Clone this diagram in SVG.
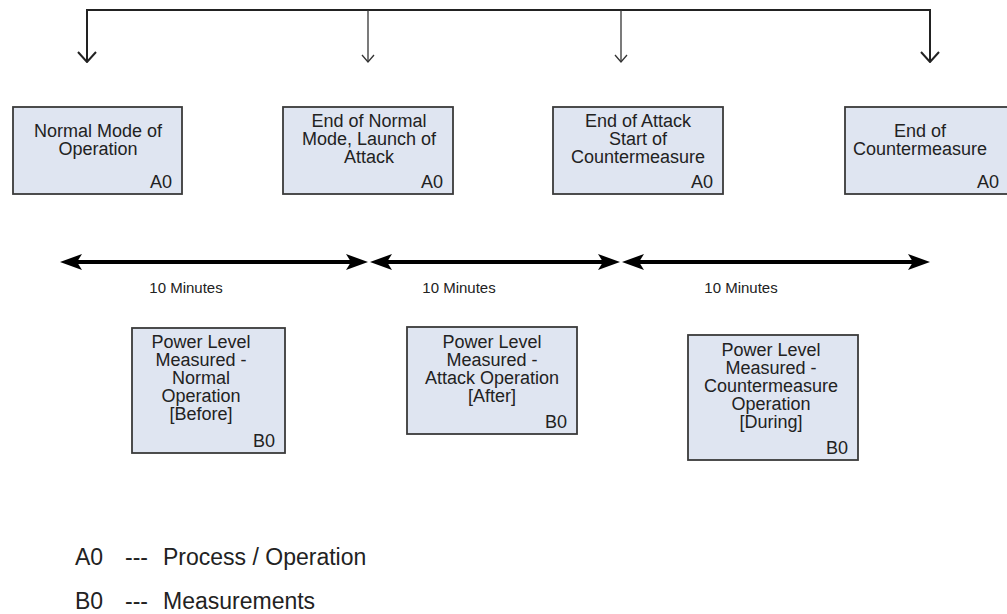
<svg xmlns="http://www.w3.org/2000/svg" width="1007" height="614" viewBox="0 0 1007 614">
<defs>
<style>
.box{fill:#dfe5f1;stroke:#3a3a3a;stroke-width:1.8}
.t{font-family:"Liberation Sans",Arial,sans-serif;font-size:18px;fill:#222;text-anchor:middle}
.lbl{font-family:"Liberation Sans",Arial,sans-serif;font-size:18px;fill:#222;text-anchor:end}
.min{font-family:"Liberation Sans",Arial,sans-serif;font-size:15px;fill:#222;text-anchor:middle}
.leg{font-family:"Liberation Sans",Arial,sans-serif;font-size:23px;fill:#222}
.wire{fill:none;stroke:#222;stroke-width:2}
.wire-thin{fill:none;stroke:#333;stroke-width:1.3}
.dbl{fill:none;stroke:#000;stroke-width:4;marker-start:url(#stealth);marker-end:url(#stealth)}
</style>
<marker id="stealth" viewBox="0 0 22 16" refX="5" refY="8" markerWidth="22" markerHeight="16" markerUnits="userSpaceOnUse" orient="auto-start-reverse">
<path d="M0,0 L22,8 L0,16 L5,8 z" fill="#000"/>
</marker>
<marker id="openThick" viewBox="0 0 20 12" refX="10" refY="11" markerWidth="20" markerHeight="12" markerUnits="userSpaceOnUse" orient="0">
<path d="M1,1 L10,11 L19,1" fill="none" stroke="#222" stroke-width="2"/>
</marker>
<marker id="openThin" viewBox="0 0 14 9" refX="7" refY="8" markerWidth="14" markerHeight="9" markerUnits="userSpaceOnUse" orient="0">
<path d="M1,1 L7,8 L13,1" fill="none" stroke="#333" stroke-width="1.3"/>
</marker>
</defs>
<rect width="1007" height="614" fill="#fff"/>

<g id="connectors">
<path class="wire" d="M87,62 L87,10 L930,10 L930,62"/>
<line class="wire" x1="87" y1="40" x2="87" y2="62" marker-end="url(#openThick)"/>
<line class="wire" x1="930" y1="40" x2="930" y2="62" marker-end="url(#openThick)"/>
<line class="wire-thin" x1="368" y1="10" x2="368" y2="62" marker-end="url(#openThin)"/>
<line class="wire-thin" x1="621" y1="10" x2="621" y2="62" marker-end="url(#openThin)"/>
<line class="dbl" x1="77" y1="262" x2="351" y2="262"/>
<line class="dbl" x1="387" y1="262" x2="603" y2="262"/>
<line class="dbl" x1="639" y1="262" x2="913" y2="262"/>
</g>

<g id="label-1"><text class="min" x="186" y="293">10 Minutes</text></g>
<g id="label-2"><text class="min" x="459" y="293">10 Minutes</text></g>
<g id="label-3"><text class="min" x="741" y="293">10 Minutes</text></g>

<g id="a1">
<rect class="box" x="13" y="107" width="169" height="87"/>
<text class="t" x="98" y="137">Normal Mode of</text>
<text class="t" x="98" y="155">Operation</text>
<text class="lbl" x="172" y="188">A0</text>
</g>
<g id="a2">
<rect class="box" x="283" y="107" width="170" height="87"/>
<text class="t" x="369" y="127">End of Normal</text>
<text class="t" x="369" y="145">Mode, Launch of</text>
<text class="t" x="369" y="163">Attack</text>
<text class="lbl" x="443" y="188">A0</text>
</g>
<g id="a3">
<rect class="box" x="553" y="107" width="170" height="87"/>
<text class="t" x="638" y="127">End of Attack</text>
<text class="t" x="638" y="145">Start of</text>
<text class="t" x="638" y="163">Countermeasure</text>
<text class="lbl" x="713" y="188">A0</text>
</g>
<g id="a4">
<rect class="box" x="845" y="107" width="170" height="87"/>
<text class="t" x="920" y="137">End of</text>
<text class="t" x="920" y="155">Countermeasure</text>
<text class="lbl" x="999" y="188">A0</text>
</g>

<g id="b1">
<rect class="box" x="132" y="328" width="153" height="125"/>
<text class="t" x="201" y="348">Power Level</text>
<text class="t" x="201" y="366">Measured -</text>
<text class="t" x="201" y="384">Normal</text>
<text class="t" x="201" y="402">Operation</text>
<text class="t" x="201" y="420">[Before]</text>
<text class="lbl" x="275" y="447">B0</text>
</g>
<g id="b2">
<rect class="box" x="407" y="327" width="170" height="107"/>
<text class="t" x="492" y="348">Power Level</text>
<text class="t" x="492" y="366">Measured -</text>
<text class="t" x="492" y="384">Attack Operation</text>
<text class="t" x="492" y="402">[After]</text>
<text class="lbl" x="567" y="428">B0</text>
</g>
<g id="b3">
<rect class="box" x="688" y="335" width="170" height="125"/>
<text class="t" x="771" y="356">Power Level</text>
<text class="t" x="771" y="374">Measured -</text>
<text class="t" x="771" y="392">Countermeasure</text>
<text class="t" x="771" y="410">Operation</text>
<text class="t" x="771" y="428">[During]</text>
<text class="lbl" x="848" y="454">B0</text>
</g>

<g id="legend">
<text class="leg" x="75" y="565">A0</text>
<text class="leg" x="125" y="565">---</text>
<text class="leg" x="163" y="565">Process / Operation</text>
<text class="leg" x="75" y="609">B0</text>
<text class="leg" x="125" y="609">---</text>
<text class="leg" x="163" y="609">Measurements</text>
</g>
</svg>
